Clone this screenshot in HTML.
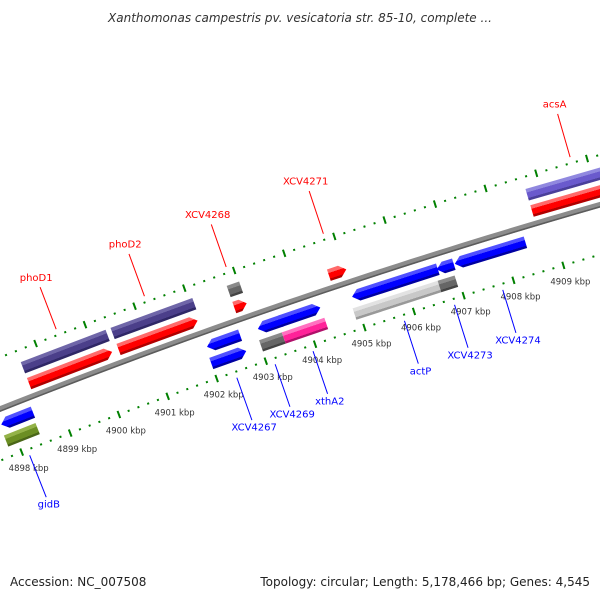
<!DOCTYPE html>
<html><head><meta charset="utf-8"><style>
html,body{margin:0;padding:0;background:#fff;}
svg{display:block;font-family:"DejaVu Sans","Liberation Sans",sans-serif;}
</style></head><body>
<svg id="chart" width="600" height="600" viewBox="0 0 600 600">
<rect x="0" y="0" width="600" height="600" fill="#fff"/>
<text x="300" y="22" text-anchor="middle" font-size="12" font-style="italic" fill="#333">Xanthomonas campestris pv. vesicatoria str. 85-10, complete ...</text>
<defs id="defs"></defs>
<g id="layer"></g>
<text x="10" y="586" font-size="12" fill="#222">Accession: NC_007508</text>
<text x="590" y="586" text-anchor="end" font-size="12" fill="#222">Topology: circular; Length: 5,178,466 bp; Genes: 4,545</text>
</svg>
<script>
// ---- data ----
const featStart = [0.61, 2.43, 4.77, 6.67, 10.72, 0.61, 2.43, 4.77, 10.72, -0.17, 4.03, 5.06, 5.51, 6.96, 8.66, 9.02, -0.2, 4.0, 5.01, 5.47, 6.9, 8.61];
const featEnd   = [2.30, 4.03, 5.02, 7.02, 12.7, 2.33, 4.08, 5.02, 12.7, 0.48, 4.70, 5.55, 6.32, 8.68, 9.0, 10.43, 0.45, 4.71, 5.47, 6.33, 8.61, 8.95];
const featTrack = [1,1,1,1,1, 2,2,2,2, -1,-1,-1,-1,-1,-1,-1, -2,-2,-2,-2,-2,-2];
const featDir   = [1,1,1,1,0, 0,0,0,0, -1,-1,-1,1,-1,-1,-1, 0,1,0,0,0,0];
const featColor = ['red','red','red','red','red','slate','slate','gray','lslate','blue','blue','blue','blue','blue','blue','blue','green','blue','gray','pink','lgray','gray'];
const labelNames = ['phoD1','phoD2','XCV4268','XCV4271','acsA','gidB','XCV4267','XCV4269','xthA2','actP','XCV4273','XCV4274'];
const labelPos   = [1.46, 3.24, 4.88, 6.82, 11.7, 0.12, 4.37, 5.15, 5.92, 7.77, 8.78, 9.75];
const labelSide  = [1,1,1,1,1,-1,-1,-1,-1,-1,-1,-1];
const tickKbp = [4897,4898,4899,4900,4901,4902,4903,4904,4905,4906,4907,4908,4909,4910,4911];

// ---- geometry ----
const CX=2360, CY=6358, R=6400, A0=-111.6, DA=0.47, K0=4898;
const trackR = {'1':13,'2':30,'-1':-15,'-2':-32};
const H=12, TIP=0.13;
function P(d,r){const a=(A0+d*DA)*Math.PI/180;const rr=R+r;return [CX+rr*Math.cos(a), CY+rr*Math.sin(a)];}
function pts(a){return a.map(p=>p[0].toFixed(2)+','+p[1].toFixed(2)).join(' ');}
const palette={
 red:['#ff0000','#ff6a6a','#b00000'], slate:['#4b3f8a','#6f66a8','#2f2766'], lslate:['#6a5acd','#9088df','#4a3f9a'],
 blue:['#0000ff','#5050ff','#0000a0'], gray:['#666666','#8a8a8a','#444444'], lgray:['#c8c8c8','#e2e2e2','#999999'],
 pink:['#ff2299','#ff70c0','#b0106a'], green:['#6b8e23','#93b248','#4a6618']};
const NS='http://www.w3.org/2000/svg';
const layer=document.getElementById('layer'), defs=document.getElementById('defs');
function mk(tag,attrs,parent){const e=document.createElementNS(NS,tag);for(const k in attrs)e.setAttribute(k,attrs[k]);(parent||layer).appendChild(e);return e;}

// backbone
const d0=-1, d1=14;
let bbTop=[],bbBot=[];
for(let d=d0; d<=d1; d+=0.25){bbTop.push(P(d,2.8));bbBot.push(P(d,-2.8));}
const bb=mk('polygon',{points:pts(bbTop.concat(bbBot.reverse())),fill:'#8c8c8c'});


let edgePts=[];for(let d=d0; d<=d1; d+=0.25)edgePts.push(P(d,-2));
const be=mk('polyline',{points:pts(edgePts),fill:'none',stroke:'#5c5c5c','stroke-width':1.5});



// scale lines
[48,-48].forEach(function(r){
  for(let i=-8;i<=70;i++){
    const d=i*0.2-0.4;
    const major=Math.abs(Math.round(d)-d)<1e-6;
    const h=major?3.8:1;
    const a=P(d,r-h), b=P(d,r+h);
    const l=mk('line',{x1:a[0],y1:a[1],x2:b[0],y2:b[1],stroke:'#008000','stroke-width':2});
    
    
  }
});
// kbp labels
tickKbp.forEach(function(k){
  const p=P(k-K0,-48);
  const t=mk('text',{x:(p[0]+7).toFixed(1),y:(p[1]+19).toFixed(1),'text-anchor':'middle','font-size':8.5,fill:'#333'});
  t.textContent=k+' kbp';
  
  
});

// features
featStart.forEach(function(s,i){
  const e=featEnd[i], rc=trackR[featTrack[i]], dir=featDir[i];
  const hi=rc+H/2, lo=rc-H/2;
  const t=Math.min(TIP,(e-s)/2);
  let poly;
  if(dir===1) poly=[P(s,hi),P(e-t,hi),P(e,rc),P(e-t,lo),P(s,lo)];
  else if(dir===-1) poly=[P(s,rc),P(s+t,hi),P(e,hi),P(e,lo),P(s+t,lo)];
  else poly=[P(s,hi),P(e,hi),P(e,lo),P(s,lo)];
  const c=palette[featColor[i]];
  const m=(s+e)/2, g1=P(m,hi), g2=P(m,lo);
  const g=mk('linearGradient',{id:'g'+i,gradientUnits:'userSpaceOnUse',x1:g1[0],y1:g1[1],x2:g2[0],y2:g2[1]},defs);
  [[0,c[1]],[0.32,c[1]],[0.33,c[0]],[0.8,c[0]],[0.81,c[2]],[1,c[2]]].forEach(function(st){mk('stop',{offset:st[0],'stop-color':st[1]},g);});
  const f=mk('polygon',{points:pts(poly),fill:'url(#g'+i+')'});
  
  
});

// labels
labelNames.forEach(function(n,i){
  const side=labelSide[i], d=labelPos[i];
  const a=P(d, side*54), b=P(d, side*99);
  const col=side>0?'#ff0000':'#0000ff';
  const l=mk('line',{x1:a[0],y1:a[1],x2:b[0],y2:b[1],stroke:col,'stroke-width':1});
  
  
  const p=P(d, side>0?110:-106);
  const t=mk('text',{x:p[0].toFixed(1),y:(p[1]+4).toFixed(1),'text-anchor':'middle','font-size':10,fill:col});
  t.textContent=n;
  
  
});
</script>
</body></html>
